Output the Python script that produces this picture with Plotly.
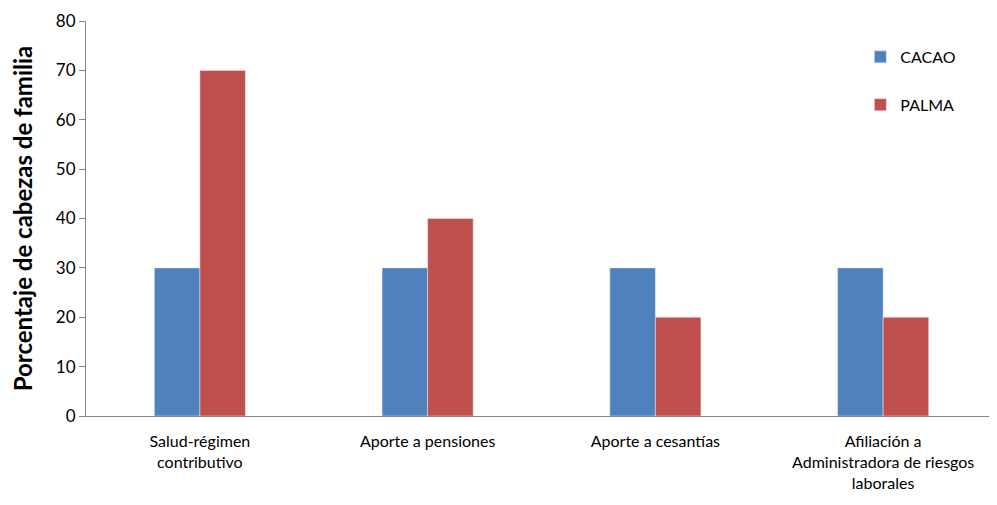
import plotly.graph_objects as go

categories = ["Salud-régimen<br>contributivo", "Aporte a pensiones", "Aporte a cesantías",
              "Afiliación a<br>Administradora de riesgos<br>laborales"]
cacao = [30, 30, 30, 30]
palma = [70, 40, 20, 20]
y_ticks = [0, 10, 20, 30, 40, 50, 60, 70, 80]

FONT = "Lato, Carlito, Calibri, sans-serif"

fig = go.Figure()
fig.add_trace(go.Bar(x=categories, y=cacao, name="CACAO", marker_color="#4F81BD",
                     legendgroup="a"))
fig.add_trace(go.Bar(x=categories, y=palma, name="PALMA", marker_color="#C0504D",
                     legendgroup="b"))

fig.update_layout(
    width=997, height=505,
    margin=dict(l=78, r=8, t=13, b=97, autoexpand=False),
    paper_bgcolor="white", plot_bgcolor="white",
    barmode="group", bargap=0.6, bargroupgap=0,
    font=dict(family=FONT, size=16, color="black"),
    legend=dict(x=0.85, y=0.952, xanchor="left", yanchor="top",
                font=dict(size=16, family=FONT), tracegroupgap=24,
                traceorder="grouped", itemwidth=30, bgcolor="rgba(0,0,0,0)"),
    xaxis=dict(showline=True, linecolor="#868686", linewidth=1, ticks="",
               tickfont=dict(size=16, family=FONT), showgrid=False,
               ticklabelstandoff=11, automargin=False),
    yaxis=dict(range=[0, 80], tickvals=y_ticks, showline=True, linecolor="#868686",
               linewidth=1, ticks="outside", ticklen=6, tickcolor="#868686",
               showgrid=False, zeroline=False, tickfont=dict(size=17, family=FONT),
               automargin=False, ticklabeloverflow="allow",
               title=dict(text="<b>Porcentaje de cabezas de familia</b>",
                          font=dict(size=24, family=FONT), standoff=18)),
)

fig.write_html("out.html")
